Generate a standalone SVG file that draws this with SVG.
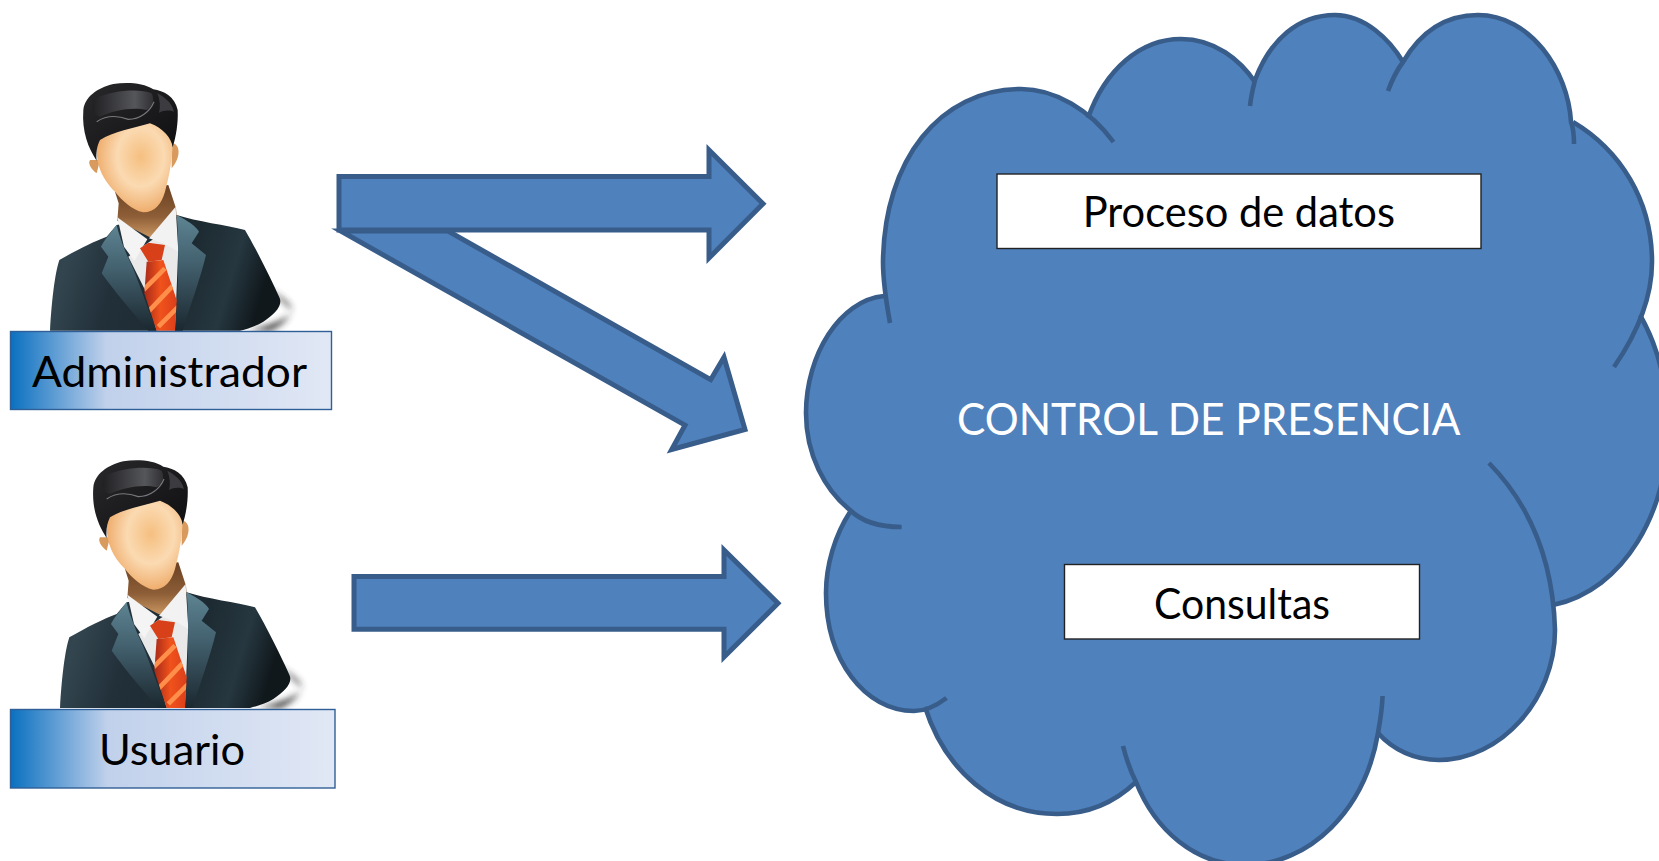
<svg xmlns="http://www.w3.org/2000/svg" xmlns:xlink="http://www.w3.org/1999/xlink" width="1659" height="861" viewBox="0 0 1659 861">
<style>
.arrow{fill:#4f81bd;stroke:#385d8a;stroke-width:5;stroke-miterlimit:10}
.lobe{fill:none;stroke:#385d8a;stroke-width:4.6}
.body{fill:#4f81bd}
.lbl{stroke:#2f5f96;stroke-width:1.4}
.box{fill:#fff;stroke:#222;stroke-width:1.4}
text{font-family:"Lato","Carlito","Open Sans",sans-serif;font-size:43px;fill:#000}
.white{fill:#fff;font-size:44px}
</style>
<defs>
<linearGradient id="lblg" x1="0" y1="0" x2="1" y2="0"><stop offset="0" stop-color="#0a70c0"/><stop offset=".3" stop-color="#c1d1eb"/><stop offset="1" stop-color="#e1e8f5"/></linearGradient>
<linearGradient id="suit" x1="0" y1="0" x2="1" y2="0.15"><stop offset="0" stop-color="#26343b"/><stop offset=".12" stop-color="#33464f"/><stop offset=".35" stop-color="#22303a"/><stop offset=".65" stop-color="#1d2a31"/><stop offset=".85" stop-color="#263740"/><stop offset="1" stop-color="#10181c"/></linearGradient>
<linearGradient id="lapel" x1="0" y1="0" x2="0" y2="1"><stop offset="0" stop-color="#5e8492"/><stop offset=".4" stop-color="#446270"/><stop offset="1" stop-color="#1b2830"/></linearGradient>
<linearGradient id="neck" x1="0" y1="0" x2="0" y2="1"><stop offset="0" stop-color="#6b4123"/><stop offset=".6" stop-color="#8d5e37"/><stop offset="1" stop-color="#c99560"/></linearGradient>
<radialGradient id="face" cx=".58" cy=".42" r=".62"><stop offset="0" stop-color="#f5bf80"/><stop offset=".5" stop-color="#fbdab2"/><stop offset="1" stop-color="#eda763"/></radialGradient>
<linearGradient id="hair" x1="0" y1="0" x2="1" y2="1"><stop offset="0" stop-color="#29292c"/><stop offset="1" stop-color="#0e0e10"/></linearGradient>
<linearGradient id="hl" x1="0" y1="0" x2="1" y2="0"><stop offset="0" stop-color="#202023"/><stop offset=".7" stop-color="#55565a"/><stop offset="1" stop-color="#303033"/></linearGradient>
<linearGradient id="tie" x1="0" y1="0" x2="1" y2="0"><stop offset="0" stop-color="#a82a18"/><stop offset=".5" stop-color="#f0521c"/><stop offset="1" stop-color="#dc3f1a"/></linearGradient>
<filter id="blur" x="-40%" y="-40%" width="180%" height="180%"><feGaussianBlur stdDeviation="9"/></filter>
<clipPath id="tieclip"><path d="M440 605L490 600L530 720L525 812H470L433 700Z"/></clipPath>
<g id="person">
<path d="M800 680C850 715 880 735 875 755C860 780 800 800 740 812H810C850 795 870 770 875 750Z" fill="#333" filter="url(#blur)"/>
<path d="M150 812C155 720 165 640 178 600C230 570 280 545 320 530L350 495L530 465C590 485 680 495 735 510C770 570 810 650 838 712C850 735 825 762 790 785C770 797 745 806 720 812Z" fill="url(#suit)"/>
<path d="M345 395L356 430L352 482L450 532L530 470L528 445L505 375Z" fill="url(#neck)"/>
<path d="M385 590L440 700L470 812H525L535 560L470 530Z" fill="#e9e9e9"/>
<path d="M352 472L442 538L403 603L372 560Z" fill="#f4f4f4"/>
<path d="M527 440L535 575L495 552L447 535Z" fill="#f2f2f2"/>
<path d="M350 495C330 520 310 545 303 560L325 590L305 640C340 690 400 760 445 812H470C440 740 405 630 385 595C370 560 355 520 350 495Z" fill="url(#lapel)"/>
<path d="M530 465C560 480 590 500 597 515L575 550L618 585C600 660 570 740 548 812H525C535 700 538 560 530 465Z" fill="url(#lapel)"/>
<path d="M420 565L445 548L495 555L485 600L445 605Z" fill="#d8401a"/>
<path d="M440 605L490 600L530 720L525 812H470L433 700Z" fill="url(#tie)"/>
<g clip-path="url(#tieclip)" fill="none" stroke="#ff8f4a" stroke-width="14"><path d="M430 690L495 625"/><path d="M440 760L530 665"/><path d="M475 800L540 735"/></g>
<path d="M270 300C262 310 275 330 290 340L300 300Z" fill="#d99a5e"/>
<path d="M515 250C540 250 545 290 515 325Z" fill="#d99a5e"/>
<path d="M292 230C283 300 300 350 345 395C365 420 395 450 430 457C465 457 485 430 495 395C510 340 518 290 518 240C510 190 470 170 440 170C400 170 330 190 292 230Z" fill="url(#face)"/>
<path d="M290 302C265 265 245 215 250 150C255 110 290 85 340 72C380 66 430 68 460 88C490 92 525 110 533 150C535 190 528 230 518 262C515 235 490 205 450 190C400 205 340 215 300 240C290 260 288 280 290 302Z" fill="url(#hair)"/>
<path d="M285 115C340 90 420 85 455 100C465 120 458 140 440 150C400 140 340 150 300 170C275 165 270 135 285 115Z" fill="url(#hl)"/>
<path d="M472 100C490 110 515 125 522 155C510 150 490 150 477 158C482 140 480 120 472 100Z" fill="#3c3c40"/>
<path d="M290 185C320 165 350 165 385 178C420 178 450 155 462 125" fill="none" stroke="#77787c" stroke-width="3.500"/>
</g>
</defs>
<rect width="1659" height="861" fill="#fff"/>
<g id="connectors">
<path class="arrow" d="M340.700 231H448L710.700 379.700L724 357.300L745 429.500L671.700 449.500L685 425.100Z"/>
<path class="arrow" d="M339 176.500H709V150L763 203.800L709 258V229.900H339Z"/>
<path class="arrow" d="M354 576.600H724V550L778 603.300L724 657V629.300H354Z"/>
</g>
<g id="administrador">
<use xlink:href="#person" href="#person" transform="translate(0,60) scale(.33333)"/>
<rect class="lbl" x="10.500" y="331.500" width="321" height="78" fill="url(#lblg)"/>
<text x="32" y="386.500" textLength="275" lengthAdjust="spacingAndGlyphs">Administrador</text>
</g>
<g id="usuario">
<use xlink:href="#person" href="#person" transform="translate(10,437.300) scale(.33333)"/>
<rect class="lbl" x="10.500" y="709.500" width="324.500" height="78.500" fill="url(#lblg)"/>
<text x="99" y="765" textLength="146" lengthAdjust="spacingAndGlyphs">Usuario</text>
</g>
<g id="cloud">
<path class="body" d="M884 296L883 262C884 160 940 89 1021 89C1048 89 1070 100 1088 118C1105 70 1140 39 1181 39C1215 39 1240 60 1255 80C1270 40 1298 15 1335 15C1365 15 1390 40 1403 62C1420 33 1445 15 1478 15C1530 15 1568 70 1571 122C1620 150 1652 200 1652 262C1652 280 1648 298 1640 315C1660 350 1668 390 1668 430C1668 510 1625 590 1553 605L1555 630C1555 700 1500 760 1439 760C1415 760 1393 750 1378 733C1365 810 1310 865 1245 865C1195 865 1155 830 1136 782C1115 802 1088 814 1057 814C995 814 945 770 925 707L914 711C865 711 826 660 826 593C826 565 835 535 850 512C825 490 806 455 806 413C806 355 840 300 884 296Z"/>
<path class="lobe" d="M890 323C884 290 883 270 883 262C884 160 940 89 1021 89C1055 89 1090 110 1113.500 142"/>
<path class="lobe" d="M1088 118C1105 70 1140 39 1181 39C1215 39 1240 60 1255 82"/>
<path class="lobe" d="M1250 106C1251 96 1253 88 1255 80C1270 40 1298 15 1335 15C1365 15 1390 40 1403 62"/>
<path class="lobe" d="M1388 91C1392 80 1397 70 1403 62C1420 33 1445 15 1478 15C1530 15 1568 70 1571 122C1574 130 1574 138 1574 144"/>
<path class="lobe" d="M1573 122C1620 150 1652 200 1652 262C1652 300 1636 335 1614 367"/>
<path class="lobe" d="M1640 315C1660 350 1668 390 1668 430C1668 510 1625 590 1553 605"/>
<path class="lobe" d="M1489 463C1530 505 1553 560 1555 630C1555 700 1500 760 1439 760C1415 760 1393 750 1378 733"/>
<path class="lobe" d="M1382.600 696C1382 710 1380 722 1378 733C1365 810 1310 865 1245 865C1195 865 1155 830 1136 782C1130 770 1126 758 1123 746"/>
<path class="lobe" d="M1136 782C1115 802 1088 814 1057 814C995 814 945 770 925 707"/>
<path class="lobe" d="M946.500 698C936 706 925 711 914 711C865 711 826 660 826 593C826 565 835 535 850 512"/>
<path class="lobe" d="M901.600 527C880 527 862 522 850 510C825 490 806 455 806 413C806 355 840 300 884 296"/>
<text class="white" x="957" y="434.500" textLength="503.500" lengthAdjust="spacingAndGlyphs">CONTROL DE PRESENCIA</text>
</g>
<g id="proceso">
<rect class="box" x="997" y="174" width="484" height="74.500"/>
<text x="1082.700" y="227" textLength="312.300" lengthAdjust="spacingAndGlyphs">Proceso de datos</text>
</g>
<g id="consultas">
<rect class="box" x="1064.500" y="564.500" width="355" height="74.500"/>
<text x="1154" y="618.500" textLength="176" lengthAdjust="spacingAndGlyphs">Consultas</text>
</g>
</svg>
